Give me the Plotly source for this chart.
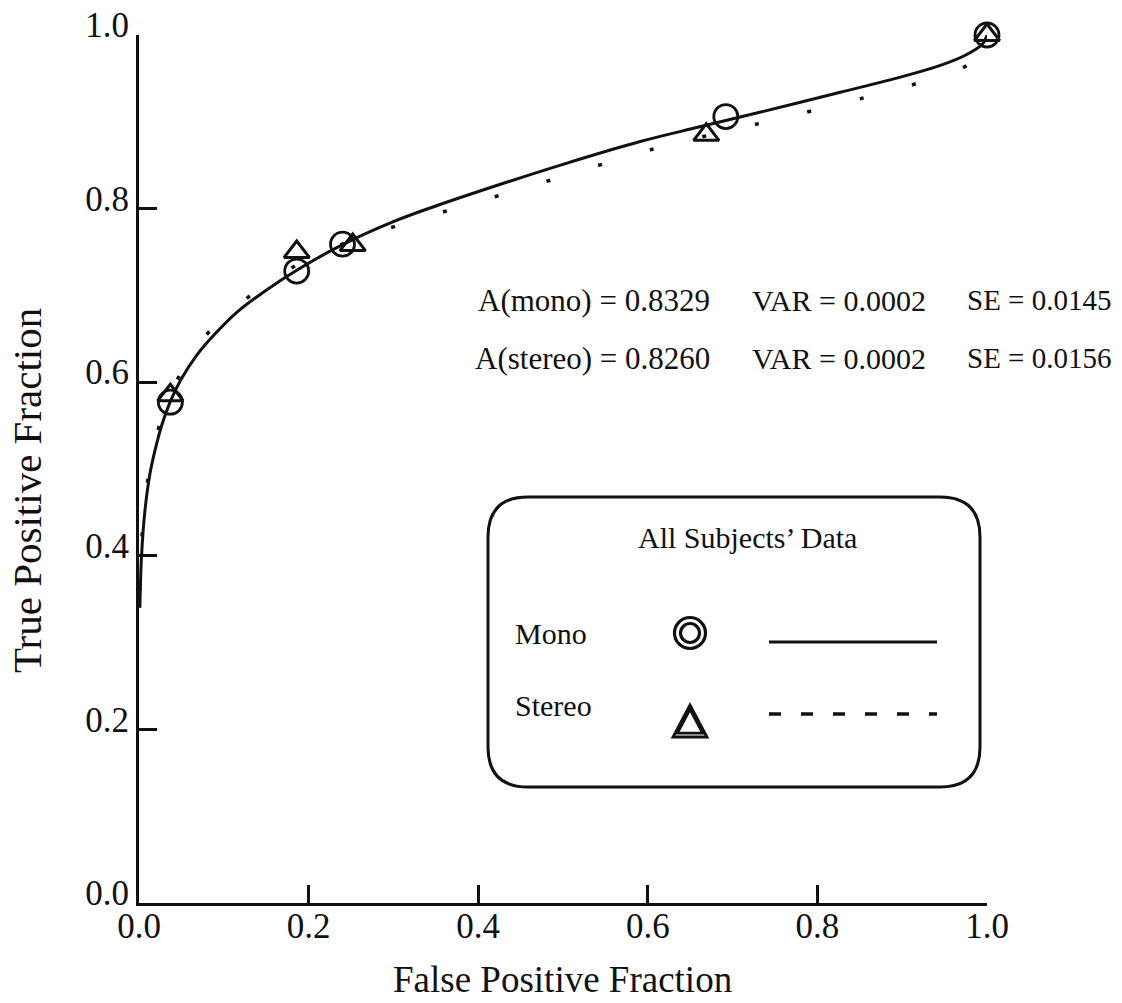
import plotly.graph_objects as go

# ---- data ----
mono_fpf = [0.037, 0.186, 0.240, 0.692, 1.0]
mono_tpf = [0.577, 0.728, 0.759, 0.906, 1.0]
stereo_fpf = [0.037, 0.186, 0.252, 0.669, 1.0]
stereo_tpf = [0.585, 0.750, 0.758, 0.885, 1.0]

mono_curve_x = [0.001, 0.003, 0.007, 0.013, 0.019, 0.027, 0.037, 0.05, 0.068, 0.09, 0.116, 0.15,
                0.186, 0.239, 0.3, 0.35, 0.42, 0.5, 0.59, 0.66, 0.732, 0.827, 0.9, 0.945,
                0.975, 0.995, 1.0]
mono_curve_y = [0.34, 0.40, 0.452, 0.495, 0.522, 0.551, 0.578, 0.604, 0.631, 0.656, 0.681, 0.706,
                0.729, 0.758, 0.785, 0.803, 0.826, 0.851, 0.877, 0.894, 0.911, 0.934, 0.952, 0.965,
                0.977, 0.99, 1.0]
stereo_curve_x = [0.001, 0.005, 0.017, 0.037, 0.068, 0.116, 0.186, 0.25, 0.3, 0.4, 0.5, 0.604,
                  0.731, 0.795, 0.86, 0.923, 0.982, 1.0]
stereo_curve_y = [0.36, 0.44, 0.524, 0.585, 0.641, 0.688, 0.735, 0.763, 0.779, 0.808, 0.837, 0.868,
                  0.898, 0.913, 0.929, 0.946, 0.969, 1.0]

tick_vals = [0.0, 0.2, 0.4, 0.6, 0.8, 1.0]
tick_text = ["0.0", "0.2", "0.4", "0.6", "0.8", "1.0"]

stats_labels = ["A(mono) = 0.8329", "A(stereo) = 0.8260"]
var_labels = ["VAR = 0.0002", "VAR = 0.0002"]
se_labels = ["SE = 0.0145", "SE = 0.0156"]

FONT = "Liberation Serif, Times New Roman, serif"
BLACK = "#111111"

fig = go.Figure()
fig.add_trace(go.Scatter(x=stereo_curve_x, y=stereo_curve_y, mode="lines", line_shape="spline",
                         line=dict(color=BLACK, width=3.5, dash="4px,50px"), showlegend=False))
fig.add_trace(go.Scatter(x=mono_curve_x, y=mono_curve_y, mode="lines", line_shape="spline",
                         line=dict(color=BLACK, width=3), showlegend=False))
fig.add_trace(go.Scatter(x=mono_fpf, y=mono_tpf, mode="markers", cliponaxis=False,
                         marker=dict(symbol="circle-open", size=24, color=BLACK,
                                     line=dict(width=2.8, color=BLACK)), showlegend=False))
fig.add_trace(go.Scatter(x=stereo_fpf, y=stereo_tpf, mode="markers", cliponaxis=False,
                         marker=dict(symbol="triangle-up-open", size=22, color=BLACK,
                                     line=dict(width=3, color=BLACK)), showlegend=False))

L, R, T, B = 139, 135, 35, 100
W, H = 1122, 1003
PW, PH = W - L - R, H - T - B


def px(x):
    return (x - L) / PW


def py(y):
    return (H - B - y) / PH


annotations = []
# stats text
for i, yy in enumerate([300, 358]):
    annotations.append(dict(x=px(712), y=py(yy), xref="paper", yref="paper", text=stats_labels[i],
                            xanchor="right", yanchor="middle", showarrow=False,
                            font=dict(family=FONT, size=31, color=BLACK)))
    annotations.append(dict(x=px(750), y=py(yy), xref="paper", yref="paper", text=var_labels[i],
                            xanchor="left", yanchor="middle", showarrow=False,
                            font=dict(family=FONT, size=30, color=BLACK)))
    annotations.append(dict(x=px(965), y=py(yy), xref="paper", yref="paper", text=se_labels[i],
                            xanchor="left", yanchor="middle", showarrow=False,
                            font=dict(family=FONT, size=29, color=BLACK)))

# axis titles
annotations.append(dict(x=px(562), y=py(979), xref="paper", yref="paper",
                        text="False Positive Fraction", showarrow=False,
                        xanchor="center", yanchor="middle",
                        font=dict(family=FONT, size=37, color=BLACK)))
annotations.append(dict(x=px(27), y=py(491), xref="paper", yref="paper",
                        text="True Positive Fraction", showarrow=False, textangle=-90,
                        xanchor="center", yanchor="middle",
                        font=dict(family=FONT, size=41, color=BLACK)))

# legend texts
annotations.append(dict(x=px(747), y=py(537), xref="paper", yref="paper",
                        text="All Subjects\u2019 Data", showarrow=False,
                        xanchor="center", yanchor="middle",
                        font=dict(family=FONT, size=30, color=BLACK)))
annotations.append(dict(x=px(513), y=py(633), xref="paper", yref="paper",
                        text="Mono", showarrow=False, xanchor="left", yanchor="middle",
                        font=dict(family=FONT, size=30, color=BLACK)))
annotations.append(dict(x=px(513), y=py(705), xref="paper", yref="paper",
                        text="Stereo", showarrow=False, xanchor="left", yanchor="middle",
                        font=dict(family=FONT, size=30, color=BLACK)))

shapes = []
# rounded legend box
bx0, bx1, by0, by1 = px(488), px(980), py(787), py(497)
rx, ry = 40 / PW, 40 / PH
path = (f"M {bx0+rx},{by1} L {bx1-rx},{by1} Q {bx1},{by1} {bx1},{by1-ry} "
        f"L {bx1},{by0+ry} Q {bx1},{by0} {bx1-rx},{by0} L {bx0+rx},{by0} "
        f"Q {bx0},{by0} {bx0},{by0+ry} L {bx0},{by1-ry} Q {bx0},{by1} {bx0+rx},{by1} Z")
shapes.append(dict(type="path", path=path, xref="paper", yref="paper",
                   line=dict(color=BLACK, width=3)))
# legend lines
shapes.append(dict(type="line", xref="paper", yref="paper", x0=px(769), x1=px(937),
                   y0=py(642), y1=py(642), line=dict(color=BLACK, width=3)))
shapes.append(dict(type="line", xref="paper", yref="paper", x0=px(769), x1=px(937),
                   y0=py(714), y1=py(714), line=dict(color=BLACK, width=3.5, dash="12px,20px")))
# legend symbols (pixel sized)
for d in (31, 19):
    shapes.append(dict(type="circle", xref="paper", yref="paper", xsizemode="pixel",
                       ysizemode="pixel", xanchor=px(690), yanchor=py(633),
                       x0=-d / 2, x1=d / 2, y0=-d / 2, y1=d / 2,
                       line=dict(color=BLACK, width=3.2)))
for s in (1.0, 0.74):
    shapes.append(dict(type="path", xref="paper", yref="paper", xsizemode="pixel",
                       ysizemode="pixel", xanchor=px(690), yanchor=py(722),
                       path=f"M {-17*s},{-15*s} L {17*s},{-15*s} L 0,{17*s} Z",
                       line=dict(color=BLACK, width=2.8)))

axis_common = dict(range=[0, 1], showgrid=False, zeroline=False, showline=True,
                   linecolor=BLACK, linewidth=3, ticks="inside", ticklen=18, tickwidth=3,
                   tickcolor=BLACK, tickvals=tick_vals, ticktext=tick_text, automargin=False,
                   tickfont=dict(family=FONT, size=35, color=BLACK), fixedrange=True)

fig.update_layout(
    width=W, height=H, margin=dict(l=L, r=R, t=T, b=B, autoexpand=False),
    paper_bgcolor="white", plot_bgcolor="white",
    xaxis=dict(**axis_common, ticklabelstandoff=-10),
    yaxis=dict(**axis_common, ticklabelshift=-10),
    annotations=annotations, shapes=shapes, showlegend=False,
)

fig.write_html("out.html")
